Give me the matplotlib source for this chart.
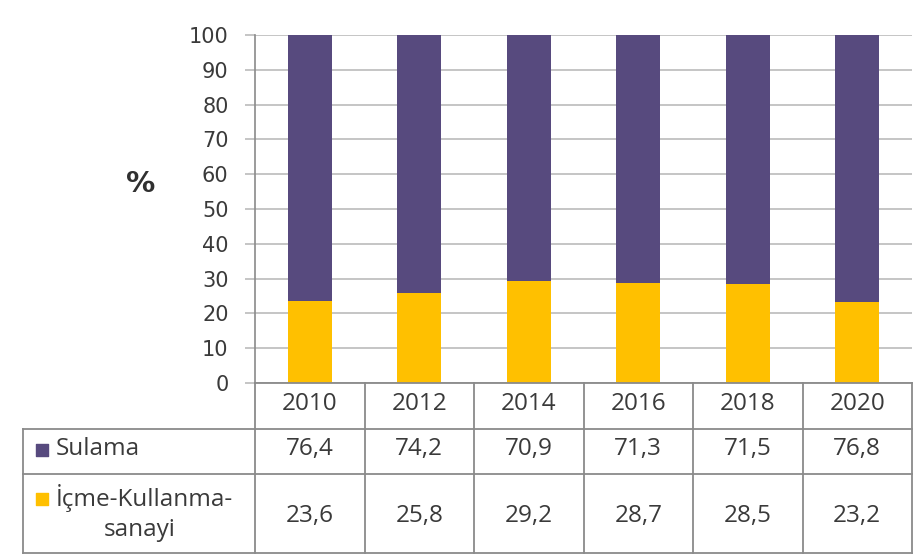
import matplotlib
matplotlib.use("Agg")
import matplotlib.pyplot as plt

years = ["2010", "2012", "2014", "2016", "2018", "2020"]
sulama = [76.4, 74.2, 70.9, 71.3, 71.5, 76.8]
icme = [23.6, 25.8, 29.2, 28.7, 28.5, 23.2]
sulama_labels = ["76,4", "74,2", "70,9", "71,3", "71,5", "76,8"]
icme_labels = ["23,6", "25,8", "29,2", "28,7", "28,5", "23,2"]
yticks = list(range(0, 101, 10))

PURPLE = "#574A7E"
YELLOW = "#FFC000"
TEXT = "#3A3A3A"
GRID = "#C0C0C0"
LINE = "#8A8A8A"

plt.rcParams["font.family"] = ["Open Sans", "DejaVu Sans"]

W, H = 918, 555
fig = plt.figure(figsize=(W / 100, H / 100), dpi=100)

# chart area (pixel layout of the reference)
ax = fig.add_axes([255 / W, (H - 383) / H, (912 - 255) / W, (383 - 35) / H])
x = list(range(len(years)))
ax.bar(x, icme, width=0.4, color=YELLOW, zorder=3)
ax.bar(x, sulama, width=0.4, bottom=icme, color=PURPLE, zorder=3)
ax.set_xlim(-0.5, len(years) - 0.5)
ax.set_ylim(0, 100)
ax.set_yticks(yticks)
ax.set_yticklabels([str(v) for v in yticks], fontsize=15, color=TEXT,
                   family="DejaVu Sans")
ax.set_xticks([])
ax.grid(axis="y", color=GRID, linewidth=1.3, zorder=0)
ax.tick_params(axis="y", length=7, width=1.3, color=GRID, pad=12)
for s in ["top", "right", "bottom"]:
    ax.spines[s].set_visible(False)
ax.spines["left"].set_color(LINE)
ax.spines["left"].set_linewidth(1.2)
fig.text(141 / W, 1 - 184 / H, "%", fontsize=21, fontweight="bold",
         color="#303030", ha="center", va="center", family="DejaVu Sans")

# data table under the chart
tax = fig.add_axes([255 / W, (H - 553) / H, (912 - 255) / W, (553 - 383) / H])
tax.set_xlim(-0.5, len(years) - 0.5)
tax.set_ylim(170, 0)
tax.axis("off")
px = (912 - 255) / len(years)
left = -0.5 - (255 - 23) / px
rows = [0, 46, 91, 170]
kw = dict(color=LINE, linewidth=1.3, clip_on=False)
tax.plot([-0.5, len(years) - 0.5], [0, 0], **kw)
for r in rows[1:]:
    tax.plot([left, len(years) - 0.5], [r, r], **kw)
for i in range(len(years) + 1):
    tax.plot([i - 0.5, i - 0.5], [0, 170], **kw)
tax.plot([left, left], [46, 170], **kw)

fs = 17.5
for i, yr in enumerate(years):
    tax.text(i, 21, yr, ha="center", va="center", fontsize=fs, color=TEXT)
    tax.text(i, 66, sulama_labels[i], ha="center", va="center", fontsize=fs, color=TEXT)
    tax.text(i, 133, icme_labels[i], ha="center", va="center", fontsize=fs, color=TEXT)

tax.scatter([left + 19 / px], [67], marker="s", s=85, color=PURPLE, clip_on=False)
tax.text(left + 33 / px, 66, "Sulama", ha="left", va="center", fontsize=fs, color=TEXT)
tax.scatter([left + 19 / px], [116], marker="s", s=85, color=YELLOW, clip_on=False)
tax.text(left + 33 / px, 115, "İçme-Kullanma-", ha="left", va="center", fontsize=fs, color=TEXT)
tax.text(left + 117 / px, 147, "sanayi", ha="center", va="center", fontsize=fs, color=TEXT)

fig.savefig("out.png", dpi=100)
